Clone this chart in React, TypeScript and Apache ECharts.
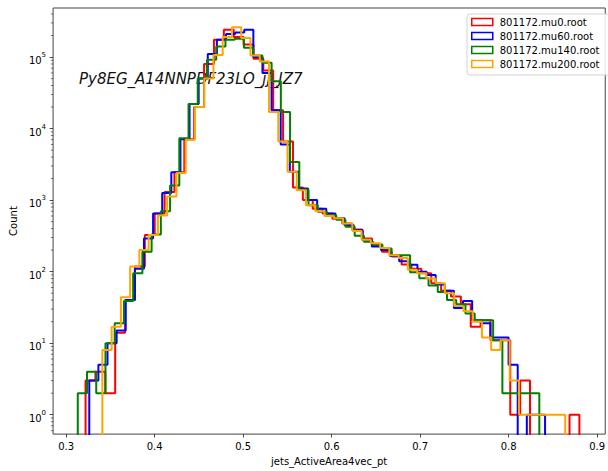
import React, { useEffect, useRef } from 'react';
import * as echarts from 'echarts';

// ---------- data ----------
const seriesNames = ['801172.mu0.root', '801172.mu60.root', '801172.mu140.root', '801172.mu200.root'];
const seriesColors = ['#ff0000', '#0000ff', '#008000', '#ffa500'];

// first bin edge and bin width of each histogram (50 bins each)
const binStarts = [0.322, 0.3262, 0.3132, 0.341];
const binWidths = [0.01116, 0.0103, 0.01043, 0.01046];

const mu0Counts = [3, 4, 2, 14, 40, 118, 325, 650, 1300, 2450,
  7100, 20000, 80000, 175000, 241000, 190000, 150000, 95000, 65000, 18000,
  6600, 1500, 1000, 760, 650, 550, 470, 390, 290, 235,
  190, 163, 126, 110, 95, 69, 54, 45, 35, 17,
  21, 11, 11, 1, 3, 0, 0, 0, 0, 1];
const mu60Counts = [3, 5, 10, 15, 40, 110, 290, 650, 1260, 2450,
  7100, 22000, 50000, 110000, 175000, 210000, 220000, 240000, 100000, 60000,
  18000, 6000, 2500, 1450, 1000, 760, 650, 560, 450, 380,
  275, 225, 200, 165, 140, 125, 100, 90, 66, 54,
  31, 39, 21, 19, 12, 12, 5, 0, 1, 1];
const mu140Counts = [2, 4, 2, 10, 19, 39, 95, 190, 330, 700,
  1600, 7300, 22000, 50000, 92000, 140000, 175000, 180000, 135000, 105000,
  83000, 46000, 17000, 3400, 1400, 850, 690, 615, 530, 425,
  318, 262, 240, 211, 170, 170, 98, 81, 64, 52,
  40, 35, 26, 21, 21, 11, 2, 2, 2, 2];
const mu200Counts = [8, 17, 44, 118, 200, 326, 610, 1120, 2400, 7000,
  20000, 50000, 107000, 190000, 260000, 185000, 105000, 87000, 17000, 6600,
  2500, 1370, 850, 700, 600, 560, 470, 370, 280, 250,
  215, 170, 155, 106, 95, 80, 69, 50, 33, 28,
  20, 12, 8, 11, 3, 1, 1, 1, 1, 1];
const allCounts = [mu0Counts, mu60Counts, mu140Counts, mu200Counts];

const annotationText = 'Py8EG_A14NNPDF23LO_jj_JZ7';
const xAxisTitle = 'jets_ActiveArea4vec_pt';
const yAxisTitle = 'Count';

const xRange = [0.2853, 0.9092];
const yRange = [0.536, 485000];
const minorMantissas = [2, 3, 4, 5, 6, 7, 8, 9];
const minorDecades = [-1, 0, 1, 2, 3, 4, 5];

const FONT = 'DejaVu Sans';
const FLOOR = 0.05; // below the axis minimum: empty bins drop out of view

function stepPoints(start: number, width: number, counts: number[]) {
  const pts: number[][] = [[start, FLOOR]];
  counts.forEach((c, i) => {
    const y = c > 0 ? c : FLOOR;
    pts.push([start + i * width, y], [start + (i + 1) * width, y]);
  });
  pts.push([start + counts.length * width, FLOOR]);
  return pts;
}

export default function App() {
  const ref = useRef<HTMLDivElement>(null);
  useEffect(() => {
    if (!ref.current) return;
    const chart = echarts.init(ref.current, null, { renderer: 'svg' });

    const minorTicks: number[][] = [];
    minorDecades.forEach((d) =>
      minorMantissas.forEach((m) => {
        const v = m * Math.pow(10, d);
        if (v > yRange[0] && v < yRange[1]) minorTicks.push([xRange[0], v]);
      })
    );

    const lineSeries = allCounts.map((counts, k) => ({
      type: 'line',
      name: seriesNames[k],
      data: stepPoints(binStarts[k], binWidths[k], counts),
      showSymbol: false,
      symbol: 'none',
      clip: true,
      silent: true,
      z: 2 + k,
      lineStyle: { color: seriesColors[k], width: 2 },
      itemStyle: { color: seriesColors[k] },
    }));

    chart.setOption({
      animation: false,
      grid: {
        left: 50,
        top: 8,
        width: 559,
        height: 429,
        show: true,
        borderColor: '#444',
        borderWidth: 1,
        backgroundColor: 'transparent',
      },
      legend: {
        orient: 'vertical',
        left: 467,
        top: 14,
        padding: [3, 11, 6, 4],
        itemWidth: 21,
        itemHeight: 7,
        itemGap: 4,
        icon: 'rect',
        borderColor: '#d3d3d3',
        borderWidth: 1,
        borderRadius: 3,
        backgroundColor: 'rgba(255,255,255,0.85)',
        textStyle: { fontFamily: FONT, fontSize: 10, color: '#000', lineHeight: 10, padding: [0, 0, 0, 2] },
        data: seriesNames.map((n, k) => ({
          name: n,
          itemStyle: { color: 'rgba(255,255,255,0)', borderColor: seriesColors[k], borderWidth: 1.5 },
        })),
        selectedMode: false,
      },
      xAxis: {
        type: 'value',
        min: xRange[0],
        max: xRange[1],
        splitLine: { show: false },
        axisLine: { show: false },
        axisTick: { show: true, length: 3.5, lineStyle: { color: '#222', width: 0.8 } },
        axisLabel: {
          showMinLabel: false,
          showMaxLabel: false,
          margin: 7,
          fontFamily: FONT,
          fontSize: 10,
          color: '#000',
          formatter: (v: number) => v.toFixed(1),
        },
        name: xAxisTitle,
        nameLocation: 'middle',
        nameGap: 20,
        nameTextStyle: { fontFamily: FONT, fontSize: 10, color: '#000' },
      },
      yAxis: {
        type: 'log',
        logBase: 10,
        min: yRange[0],
        max: yRange[1],
        splitLine: { show: false },
        axisLine: { show: false },
        axisTick: { show: true, length: 3.5, lineStyle: { color: '#222', width: 0.8 } },
        axisLabel: {
          showMinLabel: false,
          showMaxLabel: false,
          margin: 7,
          padding: [3, 0, 0, 0],
          fontFamily: FONT,
          fontSize: 10,
          color: '#000',
          formatter: (v: number) => `{b|10}{s|${Math.round(Math.log10(v))}}`,
          rich: {
            b: { fontFamily: FONT, fontSize: 10, color: '#000', lineHeight: 14, verticalAlign: 'bottom' },
            s: { fontFamily: FONT, fontSize: 7, color: '#000', lineHeight: 8, verticalAlign: 'top' },
          },
        },
        name: yAxisTitle,
        nameLocation: 'middle',
        nameGap: 31,
        nameRotate: 90,
        nameTextStyle: { fontFamily: FONT, fontSize: 10, color: '#000' },
      },
      graphic: [
        {
          type: 'text',
          left: 79,
          top: 71,
          style: { text: annotationText, font: `italic 15px "${FONT}"`, fill: '#111' },
        },
      ],
      series: [
        ...lineSeries,
        {
          type: 'custom',
          coordinateSystem: 'cartesian2d',
          silent: true,
          clip: false,
          z: 10,
          data: minorTicks,
          encode: { x: 0, y: 1 },
          renderItem: (_params: any, api: any) => {
            const p = api.coord([api.value(0), api.value(1)]);
            return {
              type: 'line',
              shape: { x1: p[0] - 2.2, y1: p[1], x2: p[0], y2: p[1] },
              style: { stroke: '#222', lineWidth: 0.6 },
            };
          },
        },
      ],
    });
    return () => chart.dispose();
  }, []);
  return (
    <div
      ref={ref}
      style={{ position: 'fixed', left: 0, top: 0, width: 608, height: 471, background: '#fff' }}
    />
  );
}
